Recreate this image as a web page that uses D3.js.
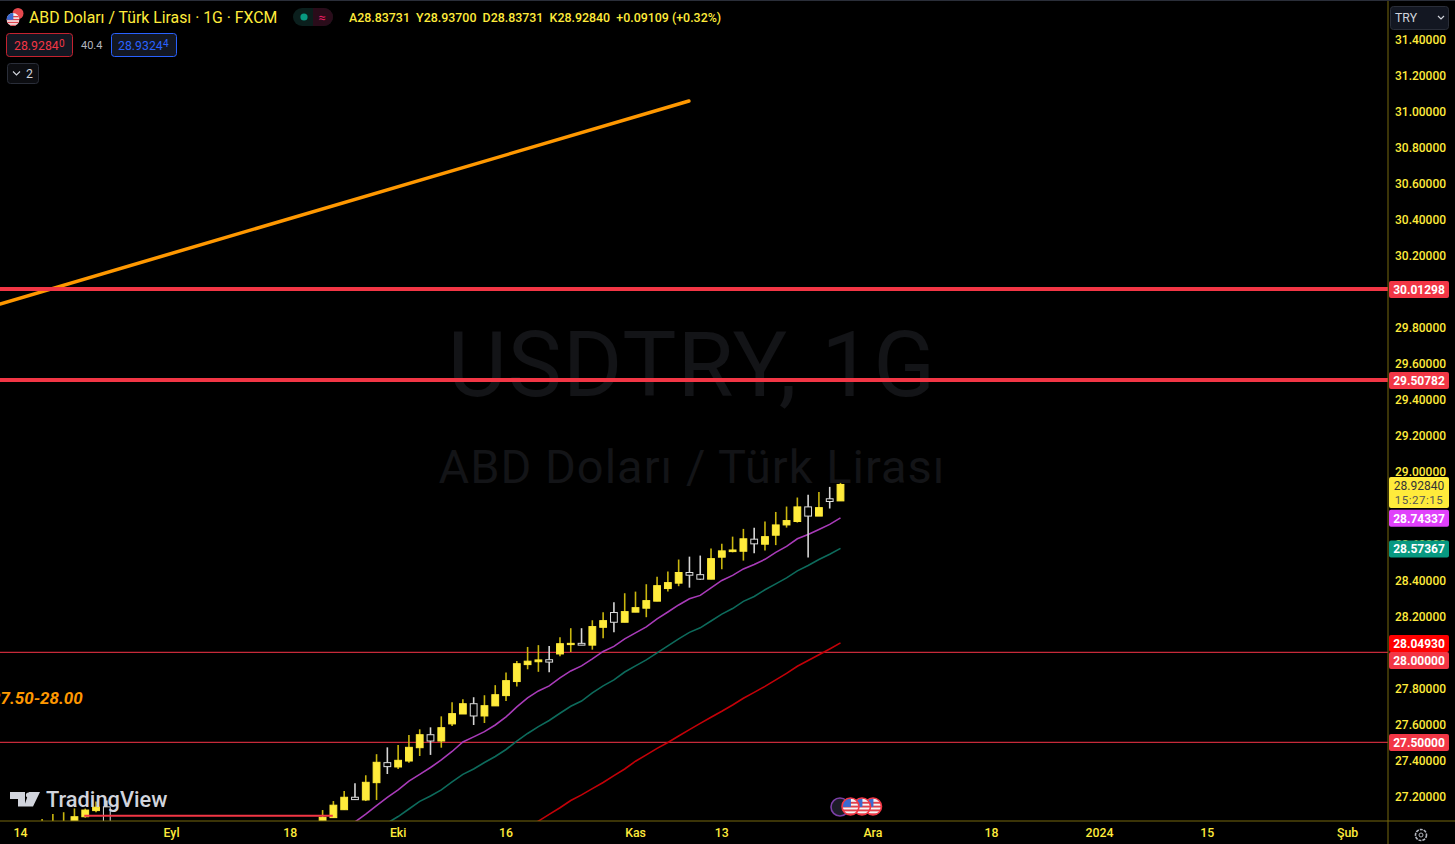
<!DOCTYPE html>
<html><head><meta charset="utf-8">
<script src="https://cdnjs.cloudflare.com/ajax/libs/d3/7.8.5/d3.min.js"></script>
<style>html,body{margin:0;padding:0;background:#000;overflow:hidden}svg{display:block}text{font-family:Roboto,"Noto Sans",sans-serif}</style>
</head><body><div id="chart"></div>
<script>
// business-day index counted from 14 Aug 2023
const candleIndex = [2,3,4,5,6,7,8,28,29,30,31,32,33,34,35,36,37,38,39,40,41,42,43,44,45,46,47,48,49,50,51,52,53,54,55,56,57,58,59,60,61,62,63,64,65,66,67,68,69,70,71,72,73,74,75,76];
const opens  = [27.00,26.95,26.96,27.00,27.085,27.119,27.14,27.063,27.080,27.124,27.193,27.178,27.274,27.385,27.361,27.394,27.468,27.540,27.505,27.600,27.655,27.712,27.644,27.700,27.757,27.835,27.929,27.945,27.956,27.988,28.040,28.047,28.037,28.136,28.218,28.164,28.220,28.242,28.281,28.351,28.381,28.440,28.428,28.403,28.525,28.556,28.558,28.625,28.597,28.647,28.704,28.723,28.804,28.753,28.849,28.83731];
const highs  = [27.072,27.100,27.110,27.131,27.130,27.170,27.175,27.122,27.172,27.228,27.271,27.315,27.432,27.470,27.483,27.539,27.570,27.581,27.642,27.720,27.737,27.748,27.759,27.815,27.885,27.949,28.027,28.037,28.032,28.081,28.131,28.131,28.175,28.220,28.275,28.325,28.334,28.375,28.417,28.445,28.512,28.528,28.534,28.573,28.599,28.639,28.682,28.689,28.723,28.776,28.806,28.856,28.871,28.887,28.915,28.93700];
const lows   = [26.94,26.90,26.90,26.96,27.08,27.11,27.00,27.056,27.078,27.122,27.178,27.172,27.178,27.322,27.350,27.385,27.422,27.428,27.468,27.589,27.655,27.594,27.605,27.700,27.727,27.807,27.903,27.889,27.887,27.975,27.999,28.037,28.012,28.075,28.109,28.164,28.220,28.192,28.281,28.334,28.364,28.356,28.399,28.403,28.458,28.552,28.506,28.547,28.562,28.592,28.689,28.717,28.523,28.753,28.795,28.83731];
const closes = [27.03,27.02,27.03,27.085,27.122,27.138,27.05,27.082,27.149,27.193,27.180,27.276,27.387,27.363,27.398,27.470,27.540,27.505,27.579,27.657,27.712,27.644,27.701,27.762,27.840,27.934,27.948,27.955,27.943,28.045,28.047,28.037,28.140,28.173,28.164,28.223,28.245,28.284,28.367,28.384,28.440,28.425,28.403,28.517,28.560,28.565,28.627,28.599,28.639,28.704,28.728,28.804,28.753,28.800,28.834,28.92840];

const magentaStart = 31;
const magentaMA = [27.056,27.100,27.147,27.192,27.234,27.283,27.320,27.358,27.400,27.447,27.500,27.528,27.557,27.594,27.639,27.694,27.744,27.783,27.811,27.855,27.894,27.922,27.961,28.002,28.030,28.072,28.105,28.138,28.183,28.221,28.260,28.294,28.313,28.355,28.396,28.424,28.460,28.485,28.513,28.552,28.585,28.627,28.651,28.679,28.707,28.74337];
const tealStart = 34;
const tealMA = [27.050,27.086,27.128,27.170,27.200,27.234,27.278,27.320,27.350,27.386,27.419,27.458,27.505,27.547,27.585,27.619,27.659,27.698,27.727,27.772,27.811,27.844,27.888,27.922,27.955,27.994,28.033,28.072,28.108,28.133,28.171,28.209,28.240,28.280,28.307,28.344,28.377,28.410,28.449,28.479,28.512,28.541,28.57367];
const redStart = 47;
const redMA = [27.023,27.061,27.098,27.135,27.175,27.206,27.241,27.275,27.313,27.350,27.393,27.428,27.464,27.497,27.533,27.568,27.603,27.637,27.670,27.705,27.742,27.775,27.808,27.844,27.880,27.920,27.952,27.984,28.016,28.04930];

const priceTicks = [31.4,31.2,31.0,30.8,30.6,30.4,30.2,29.8,29.6,29.4,29.2,29.0,28.6,28.4,28.2,27.8,27.6,27.4,27.2];
const timeTickIndex = [0,14,25,35,45,57,65,79,90,100,110,123];
const timeTickLabels = ["14","Eyl","18","Eki","16","Kas","13","Ara","18","2024","15","Şub"];
const thickLevels = [30.01298,29.50782];
const thinLevels = [28.0,27.5];
const trendIndex = [-1.9,61.95], trendPrice = [29.93,31.056];
const shortTrendIndex = [6,27], shortTrendPrice = [27.091,27.091];
const priceTags = [
  {v:30.01298,t:"30.01298",bg:"#f23645",fg:"#fff"},
  {v:29.50782,t:"29.50782",bg:"#f23645",fg:"#fff"},
  {v:28.74337,t:"28.74337",bg:"#e040fb",fg:"#fff"},
  {v:28.57367,t:"28.57367",bg:"#089981",fg:"#fff"},
  {v:28.04930,t:"28.04930",bg:"#ff0000",fg:"#fff"},
  {v:27.955,t:"28.00000",bg:"#f23645",fg:"#fff"},
  {v:27.5,t:"27.50000",bg:"#f23645",fg:"#fff"}];

const W=1455,H=844,paneR=1388,paneB=821;
const x=d3.scaleLinear().domain([0,76]).range([20.5,840.5]);
const y=d3.scaleLinear().domain([27.2,31.4]).range([796,39]);
const svg=d3.select("#chart").append("svg").attr("width",W).attr("height",H).style("background","#000");
svg.append("clipPath").attr("id","pane").append("rect").attr("x",0).attr("y",0).attr("width",paneR).attr("height",paneB);
const YEL="#ffeb3b";

// watermark
svg.append("text").attr("x",692).attr("y",396).attr("text-anchor","middle").attr("font-size",91).attr("fill","#131417").attr("letter-spacing",1).text("USDTRY, 1G");
svg.append("text").attr("x",692).attr("y",483).attr("text-anchor","middle").attr("font-size",47).attr("fill","#131417").attr("letter-spacing",1).text("ABD Doları / Türk Lirası");

const pane=svg.append("g").attr("clip-path","url(#pane)");
// level lines
pane.selectAll(".thin").data(thinLevels).join("line").attr("x1",0).attr("x2",paneR).attr("y1",d=>y(d)+.5).attr("y2",d=>y(d)+.5).attr("stroke","#c62a3a").attr("stroke-width",1.2);
// moving averages
const maLine=(start)=>d3.line().x((d,i)=>x(start+i)).y(d=>y(d));
[[magentaMA,magentaStart,"#a93bb9"],[tealMA,tealStart,"#0d6b5c"],[redMA,redStart,"#c40008"]].forEach(([s,st,c])=>{
  pane.append("path").attr("d",maLine(st)(s)).attr("fill","none").attr("stroke",c).attr("stroke-width",1.6);
});
// candles
const candles=candleIndex.map((k,i)=>({k,o:opens[i],h:highs[i],l:lows[i],c:closes[i]}));
const g=pane.selectAll(".c").data(candles).join("g");
const isUp=d=>d.c>=d.o;
g.append("line").attr("x1",d=>x(d.k)).attr("x2",d=>x(d.k)).attr("y1",d=>y(d.h)).attr("y2",d=>y(d.l))
 .attr("stroke",d=>isUp(d)?"#c9b60e":"#d6d6d6").attr("stroke-width",1.6);
g.append("rect").attr("x",d=>x(d.k)-3.4).attr("width",6.8)
 .attr("y",d=>y(Math.max(d.o,d.c))).attr("height",d=>Math.max(1,Math.abs(y(d.o)-y(d.c))))
 .attr("fill",d=>isUp(d)?YEL:"#000").attr("stroke",d=>isUp(d)?YEL:"#dcdcdc").attr("stroke-width",1);
// drawings
pane.append("line").attr("x1",x(trendIndex[0])).attr("x2",x(trendIndex[1])).attr("y1",y(trendPrice[0])).attr("y2",y(trendPrice[1])).attr("stroke","#ff9800").attr("stroke-width",3.5).attr("stroke-linecap","round");
pane.selectAll(".thick").data(thickLevels).join("line").attr("x1",0).attr("x2",paneR).attr("y1",d=>y(d)).attr("y2",d=>y(d)).attr("stroke","#f23645").attr("stroke-width",4);
pane.append("line").attr("x1",x(shortTrendIndex[0])-1).attr("x2",x(shortTrendIndex[1])+21).attr("y1",y(shortTrendPrice[0])).attr("y2",y(shortTrendPrice[1])).attr("stroke","#f23645").attr("stroke-width",2);
pane.append("text").attr("x",-9).attr("y",703.5).attr("font-size",17).attr("font-weight",700).attr("font-style","italic").attr("fill","#ff9800").text("27.50-28.00");

// axes
svg.append("line").attr("x1",0).attr("x2",W).attr("y1",paneB).attr("y2",paneB).attr("stroke","#77690f");
svg.append("line").attr("x1",paneR).attr("x2",paneR).attr("y1",0).attr("y2",H).attr("stroke","#77690f");
svg.append("line").attr("x1",0).attr("x2",W).attr("y1",0.5).attr("y2",0.5).attr("stroke","#2a2e39");
const yAxis=d3.axisRight(y).tickValues(priceTicks).tickSize(0).tickPadding(0).tickFormat(d3.format(".5f"));
const ya=svg.append("g").attr("transform","translate(1395,0.5)").call(yAxis);
ya.select(".domain").remove();
ya.selectAll("text").attr("font-size",12).attr("font-weight",500).attr("fill",YEL).attr("font-family","Roboto");
const xAxis=d3.axisBottom(x).tickValues(timeTickIndex).tickSize(0).tickPadding(0).tickFormat((d,i)=>timeTickLabels[i]);
const xa=svg.append("g").attr("transform","translate(-0.5,828.5)").call(xAxis);
xa.select(".domain").remove();
xa.selectAll("text").attr("font-size",12.3).attr("font-weight",500).attr("fill",YEL).attr("font-family","Roboto");

// price tags
const tag=svg.selectAll(".tag").data(priceTags).join("g").attr("transform",d=>`translate(1389,${y(d.v)+.5})`);
tag.append("rect").attr("x",0).attr("y",-8.5).attr("width",60).attr("height",17).attr("rx",2).attr("fill",d=>d.bg);
tag.append("text").attr("x",30).attr("y",4.5).attr("text-anchor","middle").attr("font-size",12).attr("font-weight",700).attr("fill",d=>d.fg).text(d=>d.t);
svg.append("rect").attr("x",1389).attr("y",477).attr("width",60).attr("height",31).attr("rx",2).attr("fill",YEL);
svg.append("text").attr("x",1419).attr("y",489.5).attr("text-anchor","middle").attr("font-size",12).attr("fill","#333").text("28.92840");
svg.append("text").attr("x",1419).attr("y",504).attr("text-anchor","middle").attr("font-size",11.5).attr("fill","#555").attr("letter-spacing",.5).text("15:27:15");

// currency selector & gear
svg.append("rect").attr("x",1390.5).attr("y",6.5).attr("width",58).attr("height",23).attr("rx",3).attr("fill","#131722").attr("stroke","#2a2e39");
svg.append("text").attr("x",1395).attr("y",22).attr("font-size",12.3).attr("fill","#d1d4dc").text("TRY");
svg.append("path").attr("d","M1438 16l3 3 3-3").attr("fill","none").attr("stroke","#d1d4dc").attr("stroke-width",1.2);
svg.append("circle").attr("cx",1421).attr("cy",835).attr("r",5.5).attr("fill","none").attr("stroke","#b2b5be").attr("stroke-width",1.6).attr("stroke-dasharray","3 1");
svg.append("circle").attr("cx",1421).attr("cy",835).attr("r",2).attr("fill","none").attr("stroke","#b2b5be");

// header
const flag=(cx,cy,r,ring)=>{
  const id="f"+cx;
  svg.append("clipPath").attr("id",id).append("circle").attr("cx",cx).attr("cy",cy).attr("r",r);
  const f=svg.append("g").attr("clip-path",`url(#${id})`);
  f.append("rect").attr("x",cx-r).attr("y",cy-r).attr("width",2*r).attr("height",2*r).attr("fill","#f5f5f5");
  [-.55,-.1,.35,.8].forEach(s=>f.append("rect").attr("x",cx-r).attr("y",cy+s*r).attr("width",2*r).attr("height",r*.22).attr("fill","#e0404a"));
  f.append("rect").attr("x",cx-r).attr("y",cy-r).attr("width",r*1.05).attr("height",r*1.05).attr("fill","#3a6ad0");
  if(ring)svg.append("circle").attr("cx",cx).attr("cy",cy).attr("r",r).attr("fill","none").attr("stroke","#f23645").attr("stroke-width",1.6);
};
svg.append("circle").attr("cx",18).attr("cy",13.5).attr("r",5.5).attr("fill","#e5484d");
flag(13,19.5,6.5,false);
svg.append("text").attr("x",29).attr("y",22.8).attr("font-size",15.8).attr("font-weight",400).attr("fill",YEL).text("ABD Doları / Türk Lirası · 1G · FXCM");
svg.append("rect").attr("x",293).attr("y",8).attr("width",40).attr("height",18).attr("rx",9).attr("fill","#0b1f1d");
svg.append("path").attr("d","M313 8h11a9 9 0 0 1 0 18h-11z").attr("fill","#2a0c1a");
svg.append("circle").attr("cx",304).attr("cy",17).attr("r",3.6).attr("fill","#089981");
svg.append("text").attr("x",322).attr("y",21.5).attr("text-anchor","middle").attr("font-size",13).attr("fill","#e91e63").text("≈");
svg.append("text").attr("x",349).attr("y",21.5).attr("font-size",12.4).attr("font-weight",500).attr("fill",YEL).attr("xml:space","preserve").text("A28.83731  Y28.93700  D28.83731  K28.92840  +0.09109 (+0.32%)");

const badge=(bx,bw,c)=>svg.append("rect").attr("x",bx+.5).attr("y",33.5).attr("width",bw).attr("height",23).attr("rx",3).attr("fill","#131722").attr("stroke",c);
badge(6,66,"#c4222f");
svg.append("text").attr("x",14).attr("y",49.5).attr("font-size",12.3).attr("fill","#f23645").text("28.9284");
svg.append("text").attr("x",59).attr("y",47).attr("font-size",10).attr("fill","#f23645").text("0");
svg.append("text").attr("x",81).attr("y",49).attr("font-size",11).attr("fill","#b2b5be").text("40.4");
badge(111,65,"#2962ff");
svg.append("text").attr("x",118).attr("y",49.5).attr("font-size",12.3).attr("fill","#2962ff").text("28.9324");
svg.append("text").attr("x",163).attr("y",47).attr("font-size",10).attr("fill","#2962ff").text("4");
svg.append("rect").attr("x",7.5).attr("y",63.5).attr("width",31).attr("height",20).attr("rx",3).attr("fill","#0c0d11").attr("stroke","#2a2e39");
svg.append("path").attr("d","M13 71.5l3.5 3.5 3.5-3.5").attr("fill","none").attr("stroke","#d1d4dc").attr("stroke-width",1.1);
svg.append("text").attr("x",26).attr("y",78).attr("font-size",12.3).attr("fill","#d1d4dc").text("2");

// TradingView logo
svg.append("path").attr("d","M10 792h15v14.5h-7v-7.5h-8zM29 792h11l-7 14.5h-9z").attr("fill","#d1d4dc");
svg.append("circle").attr("cx",28.5).attr("cy",795).attr("r",2.6).attr("fill","#d1d4dc");
svg.append("text").attr("x",46).attr("y",806.5).attr("font-size",21.8).attr("font-weight",500).attr("fill","#d1d4dc").text("TradingView");

// event icons
svg.append("circle").attr("cx",840).attr("cy",807).attr("r",9).attr("fill","#1c1c28").attr("stroke","#7b3fa6").attr("stroke-width",1.6);
flag(873,806.5,8.5,true);flag(862,806.5,8.5,true);flag(850.5,806.5,8.5,true);
</script></body></html>
